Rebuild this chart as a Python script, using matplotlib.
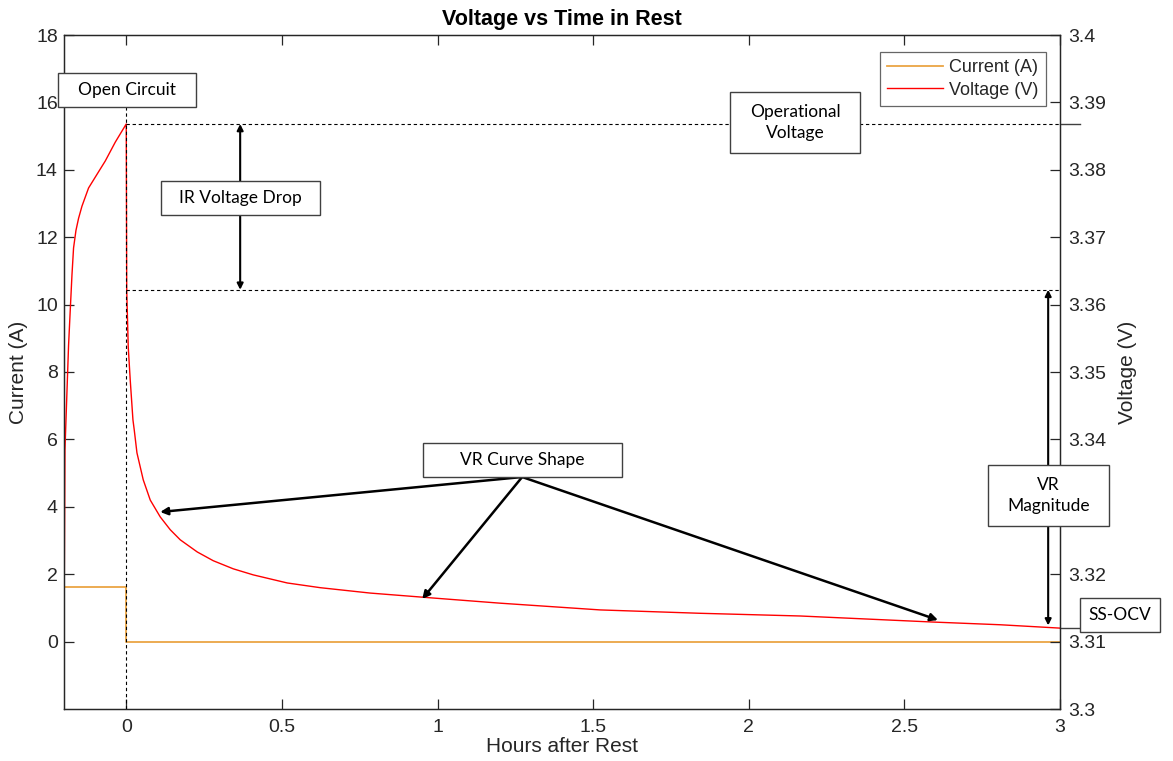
import matplotlib
matplotlib.use("Agg")
import matplotlib.pyplot as plt
from matplotlib.patches import Rectangle
from matplotlib.ticker import FormatStrFormatter

# ---------------- data ----------------
current_x = [-0.2, 0.0, 0.0, 3.0]
current_a = [1.62, 1.62, 0.0, 0.0]

volt_x = [-0.200, -0.197, -0.1853, -0.1799, -0.1744, -0.1693, -0.1616, -0.1532,
          -0.1423, -0.1211, -0.0890, -0.0675, -0.0353, 0.000,
          0.0015, 0.0064, 0.0128, 0.0215, 0.0257, 0.0344, 0.0546, 0.0771, 0.1092,
          0.1413, 0.1735, 0.2281, 0.2795, 0.3437, 0.4080, 0.5172, 0.6232, 0.7838,
          0.9766, 1.2014, 1.5226, 1.8439, 2.1651, 2.5924, 2.8076, 3.000]
volt_v = [3.3102, 3.3384, 3.3540, 3.3592, 3.3644, 3.3684, 3.3710, 3.3728,
          3.3746, 3.3773, 3.3797, 3.3813, 3.3841, 3.3868,
          3.3622, 3.3537, 3.3488, 3.3429, 3.3414, 3.3380, 3.3340, 3.3310, 3.3285,
          3.3266, 3.3251, 3.3233, 3.3220, 3.3208, 3.3199, 3.3187, 3.3180, 3.3172,
          3.3165, 3.3157, 3.3147, 3.3142, 3.3138, 3.3129, 3.3125, 3.3120]

operational_v = 3.3868
ir_drop_v = 3.3622
ss_ocv_v = 3.3120

x_ticks = [0, 0.5, 1, 1.5, 2, 2.5, 3]
current_ticks = [0, 2, 4, 6, 8, 10, 12, 14, 16, 18]
volt_ticks = [3.30, 3.31, 3.32, 3.33, 3.34, 3.35, 3.36, 3.37, 3.38, 3.39, 3.40]

# arrow targets (data coords on voltage axis)
curve_arrow_src = (1.272, 3.33442)
curve_arrow_tips = [(0.109, 3.32923), (0.951, 3.31632), (2.608, 3.31320)]
ir_arrow_x = 0.366
vr_arrow_x = 2.962

# ---------------- figure ----------------
W, H = 1173, 761
fig = plt.figure(figsize=(W / 100, H / 100), dpi=100)
tick_font = ["Liberation Sans", "DejaVu Sans"]
box_font = ["Lato", "DejaVu Sans"]
dark = "#262626"

ax = fig.add_axes([64 / W, 1 - 709 / H, (1060 - 64) / W, (709 - 35) / H])
ax2 = ax.twinx()

ax.plot(current_x, current_a, color="#EBA544", lw=1.3, label="Current (A)")
ax2.plot(volt_x, volt_v, color="#FF0000", lw=1.0, label="Voltage (V)")

ax.set_xlim(-0.2, 3)
ax.set_ylim(-2, 18)
ax2.set_ylim(3.3, 3.4)
ax.set_xticks(x_ticks)
ax.set_yticks(current_ticks)
ax2.set_yticks(volt_ticks)
ax.xaxis.set_major_formatter(FormatStrFormatter("%g"))
ax.yaxis.set_major_formatter(FormatStrFormatter("%g"))
ax2.yaxis.set_major_formatter(FormatStrFormatter("%g"))

for a in (ax, ax2):
    for s in a.spines.values():
        s.set_color(dark)
        s.set_linewidth(0.9)
ax.tick_params(axis="x", direction="in", top=True, length=7, width=0.9, color=dark,
               labelsize=14, labelcolor=dark, pad=7)
ax.tick_params(axis="y", direction="in", length=7, width=0.9, color=dark,
               labelsize=14, labelcolor=dark, pad=4.5)
ax2.tick_params(axis="y", direction="in", length=7, width=0.9, color=dark,
                labelsize=14, labelcolor=dark, pad=6)
for lab in ax.get_xticklabels() + ax.get_yticklabels() + ax2.get_yticklabels():
    lab.set_family(tick_font)

ax.set_xlabel("Hours after Rest", fontsize=15, family=tick_font, color=dark, labelpad=1)
ax.set_ylabel("Current (A)", fontsize=15, family=tick_font, color=dark, labelpad=6)
ax2.set_ylabel("Voltage (V)", fontsize=15, family=tick_font, color=dark, labelpad=8)
ax.set_title("Voltage vs Time in Rest", fontsize=15.5, fontweight="bold",
             family=tick_font, color="black", pad=7)

# legend
h1, l1 = ax.get_legend_handles_labels()
h2, l2 = ax2.get_legend_handles_labels()
leg = ax2.legend(h1 + h2, l1 + l2, loc="upper right",
                 bbox_to_anchor=(1046 / W, 1 - 52 / H), bbox_transform=fig.transFigure,
                 prop={"family": tick_font, "size": 13}, frameon=True, fancybox=False,
                 handlelength=3.1, handletextpad=0.35, borderpad=0.4, labelspacing=0.3,
                 borderaxespad=0)
leg.get_frame().set_edgecolor("#404040")
leg.get_frame().set_linewidth(0.9)
for t in leg.get_texts():
    t.set_color(dark)

# dashed reference lines
dash = dict(color="black", lw=0.8, ls=(0, (3, 2.5)))
ax2.plot([0, 3], [operational_v, operational_v], **dash)
ax2.plot([0, 3], [ir_drop_v, ir_drop_v], **dash)
ax2.plot([0, 0], [3.3, 3.3893], clip_on=False, **dash)
# short solid marks outside the right spine
ax2.plot([3, 3.064], [operational_v, operational_v], color="#404040", lw=1, clip_on=False)
ax2.plot([3, 3.064], [ss_ocv_v, ss_ocv_v], color="#404040", lw=1, clip_on=False)

# arrows
arr = dict(arrowstyle="-|>", color="black", lw=1.8, mutation_scale=11, shrinkA=0, shrinkB=0)
for tip in curve_arrow_tips:
    ax2.annotate("", xy=tip, xytext=curve_arrow_src, arrowprops=arr, annotation_clip=False)
darr = dict(arrowstyle="<|-|>", color="black", lw=1.5, mutation_scale=9, shrinkA=0, shrinkB=0)
ax2.annotate("", xy=(ir_arrow_x, operational_v), xytext=(ir_arrow_x, ir_drop_v),
             arrowprops=darr, annotation_clip=False)
ax2.annotate("", xy=(vr_arrow_x, ir_drop_v), xytext=(vr_arrow_x, 3.3124),
             arrowprops=darr, annotation_clip=False)


def box(x0, y0, x1, y1, text, size=12.5):
    fig.patches.append(Rectangle((x0 / W, 1 - y1 / H), (x1 - x0) / W, (y1 - y0) / H,
                                 transform=fig.transFigure, facecolor="white",
                                 edgecolor="#404040", lw=1.0, zorder=5))
    fig.text((x0 + x1) / 2 / W, 1 - (y0 + y1) / 2 / H, text, ha="center", va="center",
             fontsize=size, family=box_font, color="black", zorder=6, linespacing=1.35)


box(58, 73, 196, 107, "Open Circuit")
box(161, 181, 320, 215, "IR Voltage Drop")
box(730, 92, 860, 153, "Operational\nVoltage")
box(423, 443, 622, 477, "VR Curve Shape")
box(988, 465, 1109, 526, "VR\nMagnitude")
box(1080, 598, 1160, 632, "SS-OCV")

fig.savefig("out.png", dpi=100)
